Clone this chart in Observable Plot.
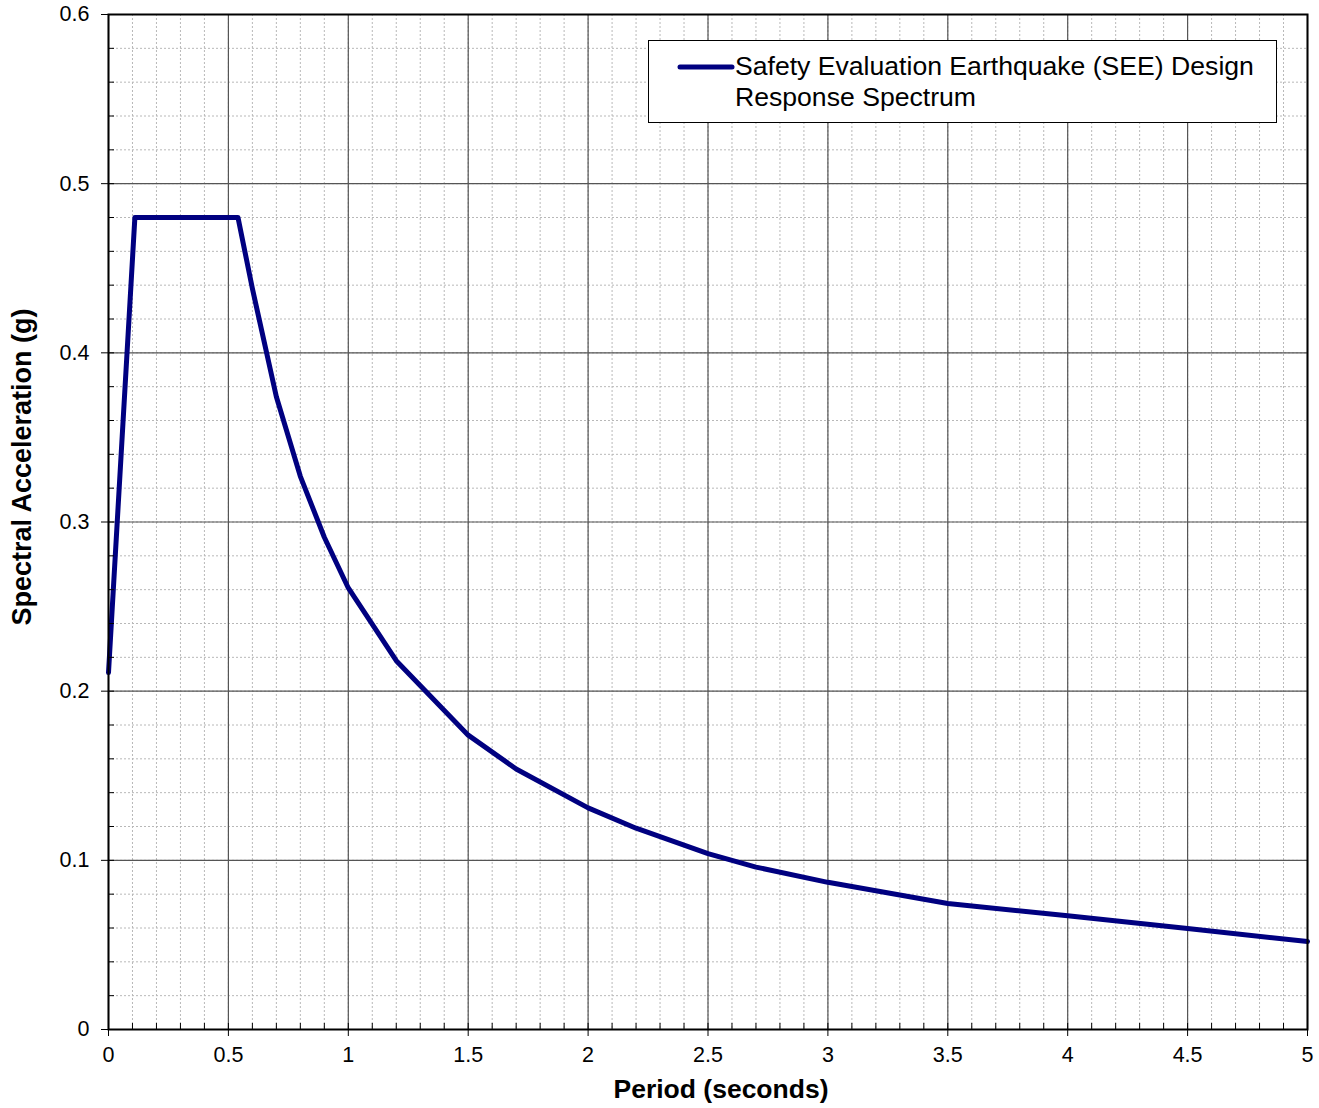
<!DOCTYPE html>
<html>
<head>
<meta charset="utf-8">
<script src="https://cdn.jsdelivr.net/npm/d3@7"></script>
<script src="https://cdn.jsdelivr.net/npm/@observablehq/plot@0.6"></script>
<style>
  html, body { margin: 0; padding: 0; background: #fff; }
  #wrap { position: relative; width: 1319px; height: 1108px; font-family: "Liberation Sans", Arial, sans-serif; }
  #legend {
    position: absolute; left: 648px; top: 40px; width: 627px; height: 81px;
    border: 1px solid #000; background: #fff; box-sizing: content-box;
  }
  #legend svg { position: absolute; left: 28px; top: 21px; }
  #legend .txt {
    position: absolute; left: 86px; top: 10px; font-size: 26.6px; line-height: 31px; color: #000; white-space: nowrap;
  }
</style>
</head>
<body>
<div id="wrap"></div>
<script>
// Data
const periods = [0, 0.11, 0.54, 0.6, 0.7, 0.8, 0.9, 1.0, 1.2, 1.5, 1.7, 2.0, 2.2, 2.5, 2.7, 3.0, 3.5, 4.0, 4.5, 5.0];
const spectralAcc = [0.211, 0.48, 0.48, 0.438, 0.374, 0.327, 0.291, 0.261, 0.218, 0.174, 0.154, 0.131, 0.119, 0.104, 0.096, 0.087, 0.0745, 0.0672, 0.0597, 0.052];
const xMajorTicks = [0, 0.5, 1, 1.5, 2, 2.5, 3, 3.5, 4, 4.5, 5];
const yMajorTicks = [0, 0.1, 0.2, 0.3, 0.4, 0.5, 0.6];
const xMinorTicks = d3.range(0, 51).map(i => +(i * 0.1).toFixed(2));
const yMinorTicks = d3.range(0, 31).map(i => +(i * 0.02).toFixed(2));
const seriesName = "Safety Evaluation Earthquake (SEE) Design Response Spectrum";
const xTitle = "Period (seconds)";
const yTitle = "Spectral Acceleration (g)";

const data = periods.map((t, i) => ({t, sa: spectralAcc[i]}));
const lineColor = "#000080";

const chart = Plot.plot({
  width: 1319,
  height: 1108,
  marginLeft: 108,
  marginRight: 12,
  marginTop: 14,
  marginBottom: 79,
  style: { fontFamily: "'Liberation Sans', Arial, sans-serif", fontSize: "21px", background: "#fff", color: "#000", overflow: "visible" },
  x: { domain: [0, 5] },
  y: { domain: [0, 0.6] },
  marks: [
    Plot.gridX(xMinorTicks, { stroke: "#b8b8b8", strokeOpacity: 1, strokeDasharray: "2,2", strokeWidth: 1 }),
    Plot.gridY(yMinorTicks, { stroke: "#b8b8b8", strokeOpacity: 1, strokeDasharray: "2,2", strokeWidth: 1 }),
    Plot.gridX(xMajorTicks, { stroke: "#555", strokeOpacity: 1, strokeWidth: 1.2 }),
    Plot.gridY(yMajorTicks, { stroke: "#555", strokeOpacity: 1, strokeWidth: 1.2 }),
    Plot.line(data, { x: "t", y: "sa", stroke: lineColor, strokeWidth: 5, strokeLinejoin: "round" }),
    Plot.frame({ stroke: "#000", strokeWidth: 2 }),
    Plot.axisX(xMinorTicks, { tickSize: -6, tickFormat: () => "", label: null, stroke: "#000" }),
    Plot.axisY(yMinorTicks, { tickSize: -6, tickFormat: () => "", label: null, stroke: "#000" }),
    Plot.axisX(xMajorTicks, { tickSize: 7, tickPadding: 10, tickFormat: d => String(d), label: null, fontSize: 21.5, stroke: "#000" }),
    Plot.axisY(yMajorTicks, { tickSize: 7, tickPadding: 12, tickFormat: d => String(+d.toFixed(1)), label: null, fontSize: 21.5, stroke: "#000" }),
    Plot.text([xTitle], { frameAnchor: "bottom", textAnchor: "middle", dx: 13, dy: 68, text: d => d, fontSize: 26.5, fontWeight: "bold", fill: "#000" }),
    Plot.text([yTitle], { frameAnchor: "left", textAnchor: "middle", dx: -86, dy: -55, rotate: -90, text: d => d, fontSize: 27, fontWeight: "bold", fill: "#000" })
  ]
});

const wrap = document.getElementById("wrap");
wrap.appendChild(chart);

// Legend (overlaid inside the plot area, as in the reference)
const legend = document.createElement("div");
legend.id = "legend";
const parts = seriesName.split(" Response");
legend.innerHTML = `<svg width="58" height="10"><line x1="3" y1="5" x2="55" y2="5" stroke="${lineColor}" stroke-width="5" stroke-linecap="round"/></svg>` +
  `<div class="txt">${parts[0]}<br>Response${parts[1]}</div>`;
wrap.appendChild(legend);
</script>
</body>
</html>
